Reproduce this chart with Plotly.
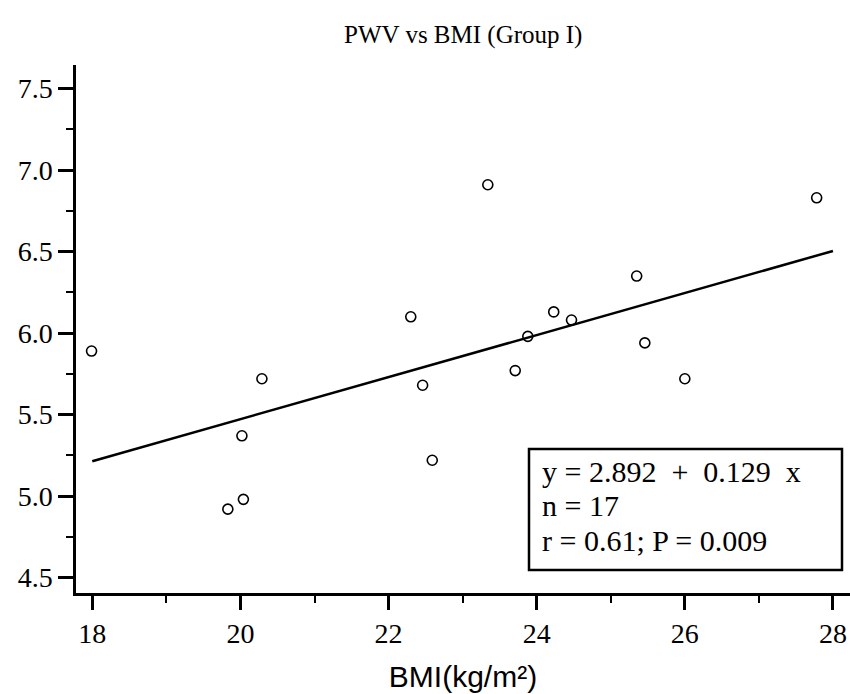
import plotly.graph_objects as go

# Data (BMI kg/m², PWV)
bmi = [17.99, 19.83, 20.04, 20.02, 20.29, 22.30, 22.46, 22.59, 23.34,
       23.71, 23.88, 24.23, 24.47, 25.35, 25.46, 26.00, 27.78]
pwv = [5.89, 4.92, 4.98, 5.37, 5.72, 6.10, 5.68, 5.22, 6.91,
       5.77, 5.98, 6.13, 6.08, 6.35, 5.94, 5.72, 6.83]

intercept = 2.892
slope = 0.129
fit_x = [18, 28]
fit_y = [intercept + slope * v for v in fit_x]

x_ticks = [18, 20, 22, 24, 26, 28]
y_ticks = [4.5, 5.0, 5.5, 6.0, 6.5, 7.0, 7.5]
y_ticklabels = ["4.5", "5.0", "5.5", "6.0", "6.5", "7.0", "7.5"]

stats_lines = ["y = 2.892\u00a0\u00a0+\u00a0\u00a00.129\u00a0\u00a0x", "n = 17", "r = 0.61; P = 0.009"]

serif = "Liberation Serif, Times New Roman, serif"
sans = "Liberation Sans, Arial, sans-serif"

fig = go.Figure()
fig.add_trace(go.Scatter(x=fit_x, y=fit_y, mode="lines",
                         line=dict(color="black", width=2.5), hoverinfo="skip"))
fig.add_trace(go.Scatter(x=bmi, y=pwv, mode="markers",
                         marker=dict(symbol="circle-open", size=10, color="black",
                                     line=dict(width=1.6, color="black"))))

fig.update_layout(
    width=850, height=694,
    margin=dict(l=76, r=0, t=65, b=101),
    plot_bgcolor="white", paper_bgcolor="white",
    showlegend=False,
    title=dict(text="PWV vs BMI (Group I)", font=dict(family=serif, size=25, color="black"),
               x=0.545, xref="container", xanchor="center",
               y=1 - 34 / 694, yref="container", yanchor="middle"),
)

fig.update_xaxes(
    range=[17.78, 28.23], showgrid=False, zeroline=False,
    showline=True, linecolor="black", linewidth=2.5,
    ticks="outside", ticklen=14, tickwidth=2.5, tickcolor="black",
    tickvals=x_ticks, ticktext=[str(v) for v in x_ticks],
    tickfont=dict(family=serif, size=28, color="black"),
    minor=dict(ticks="outside", ticklen=7, tickwidth=1.5, tickcolor="black", dtick=1, tick0=17),
    title=dict(text="BMI(kg/m²)", font=dict(family=sans, size=30, color="black"), standoff=18),
)
fig.update_yaxes(
    range=[4.4055, 7.6448], showgrid=False, zeroline=False,
    showline=True, linecolor="black", linewidth=2.5,
    ticks="outside", ticklen=15, tickwidth=2.5, tickcolor="black",
    tickvals=y_ticks, ticktext=y_ticklabels,
    tickfont=dict(family=serif, size=28, color="black"),
    minor=dict(ticks="outside", ticklen=7, tickwidth=1.5, tickcolor="black", dtick=0.25, tick0=4.25),
)

# Stats box
box_left_px, box_right_px, box_top_px, box_bot_px = 529, 842, 449, 570
plot_l, plot_w, plot_t, plot_h = 76, 774, 65, 528
def px_to_paper_x(p):
    return (p - plot_l) / plot_w
def px_to_paper_y(p):
    return 1 - (p - plot_t) / plot_h

fig.add_shape(type="rect", xref="paper", yref="paper",
              x0=px_to_paper_x(box_left_px), x1=px_to_paper_x(box_right_px),
              y0=px_to_paper_y(box_bot_px), y1=px_to_paper_y(box_top_px),
              line=dict(color="black", width=2.5), fillcolor="white", layer="above")

baselines = [482, 516.5, 551]
for line, bl in zip(stats_lines, baselines):
    fig.add_annotation(text=line, xref="paper", yref="paper",
                       x=px_to_paper_x(540), y=px_to_paper_y(bl - 11),
                       xanchor="left", yanchor="middle", showarrow=False, align="left",
                       font=dict(family=serif, size=30, color="black"))

fig.write_html("out.html")
